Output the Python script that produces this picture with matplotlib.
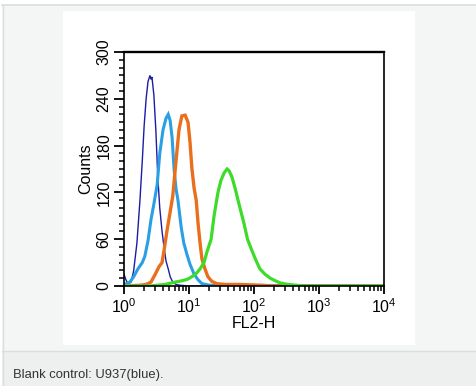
import matplotlib
matplotlib.use("Agg")
from matplotlib import pyplot as plt
from matplotlib.patches import Rectangle
from matplotlib.lines import Line2D
from matplotlib.ticker import MultipleLocator, LogLocator, NullFormatter
import numpy as np

# --- data (FL2-H value, counts) --------------------------------------------------
navy_x = [1.0, 1.07, 1.15, 1.29, 1.41, 1.58, 1.76, 1.91, 2.04, 2.19, 2.34, 2.51, 2.6,
          2.69, 2.88, 3.09, 3.31, 3.55, 3.85, 4.12, 4.43, 4.79, 5.13, 5.62, 6.31, 7.24,
          10.0, 10000]
navy_y = [15, 8, 3, 5, 20, 55, 110, 160, 205, 240, 262, 270, 265,
          268, 245, 200, 140, 100, 70, 50, 32, 22, 12, 5, 2, 1,
          0, 0]

blue_x = [1.0, 1.23, 1.41, 1.64, 1.91, 2.09, 2.34, 2.6, 2.88, 3.24, 3.55, 3.98, 4.43,
          4.79, 5.13, 5.5, 5.89, 6.31, 6.76, 7.59, 8.32, 9.33, 10.35, 12.0, 13.8, 15.8,
          20.9, 10000]
blue_y = [2, 5, 12, 22, 30, 38, 58, 85, 105, 130, 170, 200, 215,
          220, 212, 190, 150, 125, 110, 75, 55, 40, 28, 15, 8, 3,
          1, 0]

orange_x = [1.0, 1.76, 2.19, 2.6, 3.02, 3.47, 3.85, 4.12, 4.57, 5.13, 5.62, 6.31, 7.01,
            7.76, 8.71, 9.66, 10.35, 11.1, 12.0, 12.9, 13.8, 14.8, 15.8, 17.6, 19.5,
            22.4, 26.9, 35.5, 60.3, 126, 200, 10000]
orange_y = [0, 1, 2, 5, 15, 25, 30, 45, 70, 95, 115, 160, 200,
            218, 219, 210, 185, 150, 125, 110, 80, 55, 35, 22, 12,
            6, 3, 2, 2, 1, 0, 0]

green_x = [1.0, 2.51, 4.27, 6.1, 8.13, 9.66, 11.1, 12.9, 14.8, 17.0, 19.1, 21.9, 24.3,
           27.9, 30.9, 34.7, 38.5, 41.2, 45.7, 51.3, 56.8, 63.1, 70.2, 79.4, 93.3,
           107, 123, 148, 178, 209, 251, 331, 447, 600, 10000]
green_y = [0, 0, 2, 5, 7, 9, 12, 16, 22, 30, 45, 60, 90,
           120, 135, 145, 150, 148, 140, 125, 110, 95, 80, 60, 45,
           33, 22, 15, 10, 7, 4, 2, 1, 0, 0]

series = [
    (navy_x, navy_y, "#1c1ca6", 1.0),
    (blue_x, blue_y, "#2b9fe3", 2.2),
    (orange_x, orange_y, "#ea6f1c", 2.4),
    (green_x, green_y, "#3ddc2a", 2.3),
]

caption = "Blank control: U937(blue)."

plt.rcParams["font.family"] = ["Liberation Sans", "DejaVu Sans"]
plt.rcParams["mathtext.fontset"] = "custom"
plt.rcParams["mathtext.rm"] = "Liberation Sans"
plt.rcParams["mathtext.it"] = "Liberation Sans:italic"
plt.rcParams["mathtext.bf"] = "Liberation Sans:bold"

W, H = 476, 386
fig = plt.figure(figsize=(W / 100, H / 100), dpi=100)
fig.patch.set_facecolor("white")


def px_rect(x0, y0, x1, y1, **kw):
    # rectangle given in pixel coordinates from the top-left corner
    fig.add_artist(Rectangle((x0 / W, 1 - y1 / H), (x1 - x0) / W, (y1 - y0) / H,
                             transform=fig.transFigure, zorder=-5, **kw))


def px_line(xs, ys, **kw):
    fig.add_artist(Line2D([x / W for x in xs], [1 - y / H for y in ys],
                          transform=fig.transFigure, zorder=-4, **kw))


# page frame, white panel and caption bar
px_rect(2, 5, W, 351, facecolor="#f4f5f5", edgecolor="none")
px_rect(63, 11, 415, 345, facecolor="white", edgecolor="none")
px_rect(2, 351, W, H, facecolor="#eeefef", edgecolor="none")
px_line([2, W], [5, 5], color="#dcdddd", lw=1.2)
px_line([2.5, 2.5], [5, H], color="#dcdddd", lw=1.0)
px_line([2, W], [351, 351], color="#dcdddd", lw=1.0)
fig.text(13 / W, 1 - 375 / H, caption, fontsize=9.4, color="#333333",
         ha="left", va="center", family=["Liberation Sans", "DejaVu Sans"])

ax = fig.add_axes([124 / W, 1 - 286 / H, 260 / W, 234 / H])
ax.set_facecolor("none")
ax.set_zorder(2)

for xs, ys, col, lw in series:
    ax.plot(xs, ys, color=col, lw=lw, solid_joinstyle="miter")

ax.set_xscale("log")
ax.set_xlim(1, 10000)
ax.set_ylim(0, 300)

ax.xaxis.set_major_locator(LogLocator(base=10, numticks=10))
ax.xaxis.set_minor_locator(LogLocator(base=10, subs=np.arange(2, 10), numticks=20))
ax.xaxis.set_minor_formatter(NullFormatter())
ax.yaxis.set_major_locator(MultipleLocator(60))
ax.yaxis.set_minor_locator(MultipleLocator(10))

ax.tick_params(which="major", direction="out", length=6, width=1.3,
               labelsize=11.5, colors="black", pad=2)
ax.tick_params(which="minor", direction="out", length=3.5, width=1.1)
ax.tick_params(axis="y", which="major", length=7)
for lab in ax.get_yticklabels():
    lab.set_rotation(90)
    lab.set_va("center")

for sp in ax.spines.values():
    sp.set_linewidth(1.2)
ax.spines["top"].set_linewidth(1.7)

ax.set_xlabel("FL2-H", fontsize=11.5, labelpad=0)
ax.set_ylabel("Counts", fontsize=11.5, labelpad=2)

fig.savefig("out.png", dpi=100, facecolor=fig.get_facecolor())
